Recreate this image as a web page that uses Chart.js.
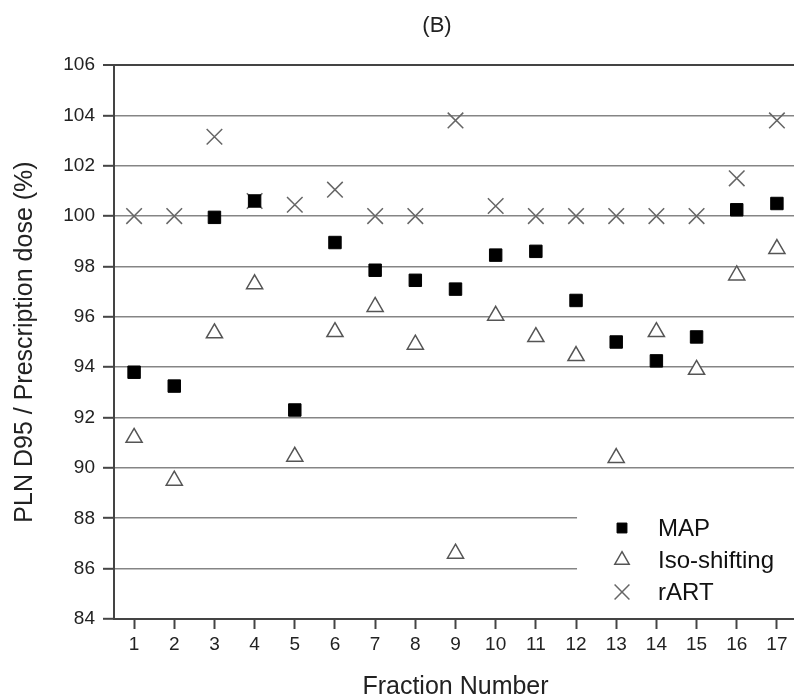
<!DOCTYPE html>
<html>
<head>
<meta charset="utf-8">
<script src="https://cdn.jsdelivr.net/npm/chart.js@4/dist/chart.umd.min.js"></script>
<style>
  html, body { margin: 0; padding: 0; background: #fff; overflow: hidden; }
  #c { display: block; }
</style>
</head>
<body>
<canvas id="c" width="797" height="700" style="width:797px;height:700px"></canvas>
<script>
const fractions = ['1','2','3','4','5','6','7','8','9','10','11','12','13','14','15','16','17'];
const mapValues = [93.8, 93.25, 99.95, 100.6, 92.3, 98.95, 97.85, 97.45, 97.1, 98.45, 98.6, 96.65, 95.0, 94.25, 95.2, 100.25, 100.5];
const isoValues = [91.2, 89.5, 95.35, 97.3, 90.45, 95.4, 96.4, 94.9, 86.6, 96.05, 95.2, 94.45, 90.4, 95.4, 93.9, 97.65, 98.7];
const rartValues = [100, 100, 103.15, 100.6, 100.45, 101.05, 100, 100, 103.8, 100.4, 100, 100, 100, 100, 100, 101.5, 103.8];
const yTickValues = [84, 86, 88, 90, 92, 94, 96, 98, 100, 102, 104, 106];
const seriesNames = ['MAP', 'Iso-shifting', 'rART'];
const chartTitle = '(B)';
const xTitle = 'Fraction Number';
const yTitle = 'PLN D95 / Prescription dose (%)';

const FONT = "'Liberation Sans', Arial, sans-serif";

const styles = [
  { pointStyle: 'rect', pointRadius: 8.8, backgroundColor: '#000', borderColor: '#000', pointBorderWidth: 1 },
  { pointStyle: 'triangle', pointRadius: 9.3, backgroundColor: '#fff', borderColor: '#555', pointBorderWidth: 1.5 },
  { pointStyle: 'crossRot', pointRadius: 11, backgroundColor: '#666', borderColor: '#666', pointBorderWidth: 1.5 }
];

const allValues = [mapValues, isoValues, rartValues];
const datasets = allValues.map((vals, i) => ({
  label: seriesNames[i],
  data: vals,
  showLine: false,
  pointStyle: styles[i].pointStyle,
  pointRadius: styles[i].pointRadius,
  pointHoverRadius: styles[i].pointRadius,
  pointBackgroundColor: styles[i].backgroundColor,
  pointBorderColor: styles[i].borderColor,
  pointBorderWidth: styles[i].pointBorderWidth,
  backgroundColor: styles[i].backgroundColor,
  borderColor: styles[i].borderColor,
  clip: false
}));

const overlayPlugin = {
  id: 'overlay',
  afterDraw(chart) {
    const ctx = chart.ctx;
    const xs = chart.scales.x, ys = chart.scales.y;
    ctx.save();
    // title
    ctx.fillStyle = '#222';
    ctx.font = '22px ' + FONT;
    ctx.textAlign = 'center';
    ctx.textBaseline = 'middle';
    ctx.fillText(chartTitle, 437, 26);
    // legend box (white background hiding grid lines)
    const boxLeft = xs.getPixelForValue(11) + 1;
    const boxTop = ys.getPixelForValue(89.1);
    const boxBottom = ys.getPixelForValue(84.3);
    ctx.fillStyle = '#fff';
    ctx.fillRect(boxLeft, boxTop, chart.chartArea.right - boxLeft + 5, boxBottom - boxTop);
    const rowY = [528, 560, 592];
    const legendRadius = [7, 8.3, 10.5];
    datasets.forEach((ds, i) => {
      ctx.fillStyle = ds.pointBackgroundColor;
      ctx.strokeStyle = ds.pointBorderColor;
      ctx.lineWidth = ds.pointBorderWidth;
      Chart.helpers.drawPoint(ctx, {
        pointStyle: ds.pointStyle,
        radius: legendRadius[i],
        rotation: 0,
        borderWidth: ds.pointBorderWidth
      }, 622, rowY[i]);
      ctx.fillStyle = '#111';
      ctx.font = '24px ' + FONT;
      ctx.textAlign = 'left';
      ctx.textBaseline = 'middle';
      ctx.fillText(ds.label, 658, rowY[i] + 1);
    });
    ctx.restore();
  }
};

new Chart(document.getElementById('c'), {
  type: 'line',
  data: { labels: fractions, datasets: datasets },
  plugins: [overlayPlugin],
  options: {
    responsive: false,
    animation: false,
    events: [],
    layout: { autoPadding: false, padding: { top: 65, right: 0, left: 0, bottom: 0 } },
    plugins: {
      legend: { display: false },
      title: { display: false },
      tooltip: { enabled: false }
    },
    scales: {
      x: {
        type: 'category',
        offset: true,
        grid: {
          offset: false,
          drawOnChartArea: false,
          drawTicks: true,
          tickLength: 10,
          tickColor: '#444',
          tickWidth: 2
        },
        border: { display: true, color: '#444', width: 2 },
        ticks: {
          color: '#222',
          font: { family: FONT, size: 19 },
          padding: 4,
          maxRotation: 0,
          autoSkip: false
        },
        title: {
          display: true,
          text: xTitle,
          color: '#222',
          font: { family: FONT, size: 25, lineHeight: 1 },
          padding: { top: 0, bottom: 0 }
        },
        afterFit(scale) {
          scale.height = 81;
          scale.paddingLeft = 0;
          scale.paddingRight = 0;
        }
      },
      y: {
        type: 'linear',
        min: 84,
        max: 106,
        afterBuildTicks(scale) { scale.ticks = yTickValues.map(v => ({ value: v })); },
        grid: {
          color: (c) => (c.tick && c.tick.value === 106) ? '#444' : '#858585',
          lineWidth: (c) => (c.tick && c.tick.value === 106) ? 2 : 1.6,
          drawTicks: true,
          tickLength: 11,
          tickColor: '#444',
          tickWidth: 2
        },
        border: { display: true, color: '#444', width: 2 },
        ticks: {
          color: '#222',
          font: { family: FONT, size: 19 },
          padding: 8
        },
        title: {
          display: true,
          text: yTitle,
          color: '#222',
          font: { family: FONT, size: 25, lineHeight: 1 },
          padding: { top: 13, bottom: 0 }
        },
        afterFit(scale) { scale.width = 114; }
      }
    }
  }
});
</script>
</body>
</html>
